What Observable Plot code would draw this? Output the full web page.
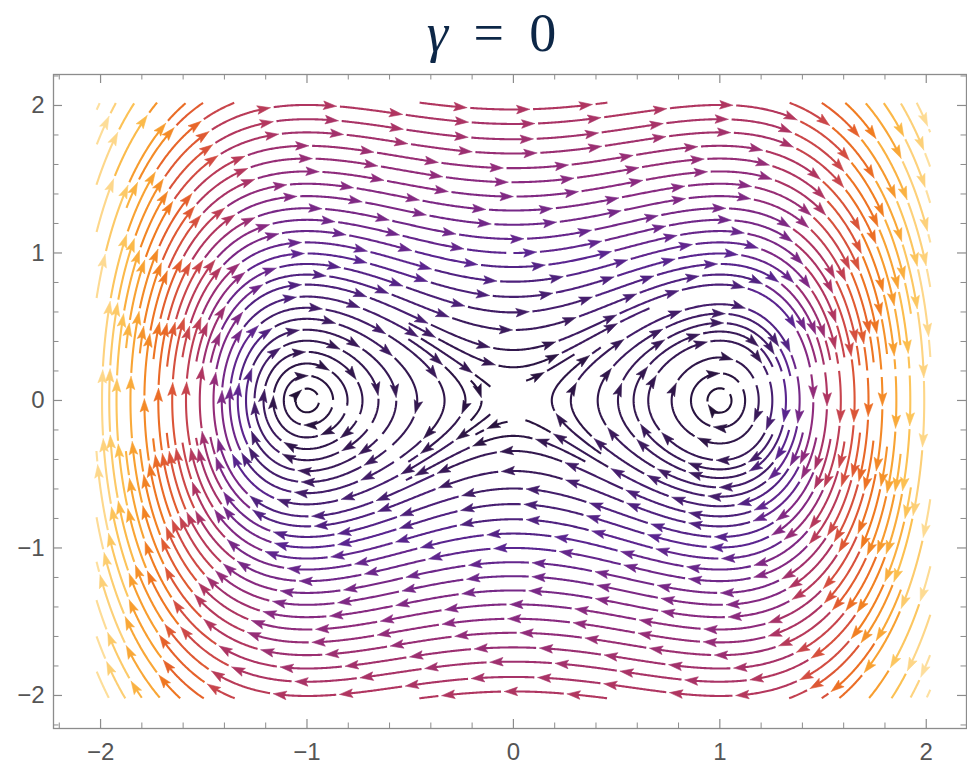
<!DOCTYPE html>
<html><head><meta charset="utf-8">
<script src="https://cdn.jsdelivr.net/npm/d3@7"></script>
<script src="https://cdn.jsdelivr.net/npm/@observablehq/plot@0.6"></script>
<style>
body{margin:0;background:#fff;}
#wrap{position:relative;width:967px;height:765px;}
#title{position:absolute;left:0;top:2px;width:967px;box-sizing:border-box;padding-left:16px;text-align:center;font-family:"Liberation Serif","DejaVu Serif",serif;font-size:54px;line-height:62px;color:#0d2747;word-spacing:12px;z-index:2;}
#chart{position:absolute;left:0;top:0;}
</style></head><body>
<div id="wrap"><div id="title"><i>γ</i> = 0</div><div id="chart"></div></div>
<script>
// ---- data ----
const gamma = 0;                       // damping of x'' = x - x^3 - gamma x'
const xTicks = [-2, -1, 0, 1, 2];
const yTicks = [-2, -1, 0, 1, 2];
const minorStep = 0.2;
const speedStops = [0, 0.5, 1, 1.5, 2, 2.6, 3.1, 3.6, 4.3, 5, 6.3];
const colorStops = ["#1e0f2e","#3a1a5a","#5a2590","#8a2a80","#b03560","#d04a45","#e5602c","#f07a20","#f8a030","#fcc050","#fde0a0"];

// ---- layout ----
const W = 967, H = 765, mL = 53, mR = 1, mT = 74, mB = 37;
const xDom = [-2.228, 2.195], yDom = [-2.224, 2.21];
const kx = (W - mL - mR) / (xDom[1] - xDom[0]);
const ky = (H - mT - mB) / (yDom[1] - yDom[0]);
const box = [-2.02, 2.02];

// ---- vector field & evenly spaced streamlines ----
function fieldAt(x, y) { return [y, x - x * x * x - gamma * y]; }
function speedAt(x, y) { const [u, v] = fieldAt(x, y); return Math.hypot(u, v); }
function dirAt(px, py) {
  const x = px / kx, y = py / ky;
  const [u, v] = fieldAt(x, y);
  const a = u * kx, b = v * ky, n = Math.hypot(a, b);
  return {dx: a / n, dy: b / n, s: Math.hypot(u, v)};
}
function tooSlow(px, py) {
  const x = px / kx, y = py / ky, s = speedAt(x, y);
  if (Math.abs(x) < 0.5) return s < 0.15;
  return s < 0.012;
}
const dsep = 14, dtest = 0.5 * dsep, h = 1.2;
const X0 = -2.1 * kx, Y0 = -2.1 * ky;
const cols = Math.ceil(4.2 * kx / dsep) + 1, rows = Math.ceil(4.2 * ky / dsep) + 1;
const grid = Array.from({length: cols * rows}, () => []);
function cellOf(px, py) { return [Math.floor((px - X0) / dsep), Math.floor((py - Y0) / dsep)]; }
function addPt(px, py, sid, idx) {
  const [i, j] = cellOf(px, py);
  if (i >= 0 && j >= 0 && i < cols && j < rows) grid[i + j * cols].push({px, py, sid, idx});
}
function near(px, py, d, sid, idx) {
  const [ci, cj] = cellOf(px, py), r = Math.ceil(d / dsep);
  for (let i = ci - r; i <= ci + r; i++) {
    if (i < 0 || i >= cols) continue;
    for (let j = cj - r; j <= cj + r; j++) {
      if (j < 0 || j >= rows) continue;
      const arr = grid[i + j * cols];
      for (let k = 0; k < arr.length; k++) {
        const q = arr[k];
        if (q.sid === sid && Math.abs(q.idx - idx) * h < 3 * dsep) continue;
        const dx = q.px - px, dy = q.py - py;
        if (dx * dx + dy * dy < d * d) return true;
      }
    }
  }
  return false;
}
function inBox(px, py) { const x = px / kx, y = py / ky; return x >= box[0] && x <= box[1] && y >= box[0] && y <= box[1]; }
function trace(px, py, sid, sign) {
  const out = []; let idx = 0;
  for (let step = 0; step < 8000; step++) {
    if (tooSlow(px, py)) break;
    const d1 = dirAt(px, py);
    const d2 = dirAt(px + sign * d1.dx * h / 2, py + sign * d1.dy * h / 2); if (!(d2.s > 0.005)) break;
    const nx = px + sign * d2.dx * h, ny = py + sign * d2.dy * h;
    if (!inBox(nx, ny)) break;
    idx += sign;
    if (near(nx, ny, dtest, sid, idx)) break;
    addPt(nx, ny, sid, idx); out.push([nx, ny]);
    px = nx; py = ny;
  }
  return out;
}
const streams = [];
function makeStream(px, py) {
  if (!inBox(px, py)) return null;
  if (near(px, py, dsep * 0.98, -1, 0)) return null;
  if (tooSlow(px, py)) return null;
  const sid = streams.length;
  addPt(px, py, sid, 0);
  const f = trace(px, py, sid, 1), b = trace(px, py, sid, -1);
  const s = {sid, pts: [...b.reverse(), [px, py], ...f]};
  streams.push(s); return s;
}
const queue = [];
function processQueue() {
  while (queue.length) {
    const s = queue.shift(), P = s.pts;
    for (let i = 0; i < P.length; i += 2) {
      const a = P[Math.max(0, i - 1)], b = P[Math.min(P.length - 1, i + 1)];
      let tx = b[0] - a[0], ty = b[1] - a[1]; const n = Math.hypot(tx, ty);
      if (n === 0) continue; tx /= n; ty /= n;
      for (const sg of [1, -1]) {
        const ns = makeStream(P[i][0] - sg * ty * dsep, P[i][1] + sg * tx * dsep);
        if (ns) queue.push(ns);
      }
    }
  }
}
const first = makeStream(0, 1.0 * ky);
if (first) queue.push(first);
processQueue();
for (let gx = box[0]; gx <= box[1]; gx += dsep / 2 / kx)
  for (let gy = box[0]; gy <= box[1]; gy += dsep / 2 / ky) {
    const ns = makeStream(gx * kx, gy * ky);
    if (ns) { queue.push(ns); processQueue(); }
  }

// ---- break streamlines into arrow pieces (arrow, then a small gap) ----
const pieceLen = 66, gap = 3.5, headLen = 13, headW = 4.3, notch = 10.5, lineBack = 8, minHeadStream = 30;
const lineRows = [], headRows = [];
let pid = 0;
for (const s of streams) {
  const P = s.pts; if (P.length < 3) continue;
  const cum = [0];
  for (let i = 1; i < P.length; i++) cum.push(cum[i - 1] + Math.hypot(P[i][0] - P[i - 1][0], P[i][1] - P[i - 1][1]));
  const L = cum[cum.length - 1]; if (L < 6) continue;
  const at = t => {
    let lo = 0, hi = cum.length - 1;
    while (hi - lo > 1) { const m = (lo + hi) >> 1; if (cum[m] <= t) lo = m; else hi = m; }
    const f = (cum[hi] - cum[lo]) > 0 ? (t - cum[lo]) / (cum[hi] - cum[lo]) : 0;
    return [P[lo][0] + f * (P[hi][0] - P[lo][0]), P[lo][1] + f * (P[hi][1] - P[lo][1])];
  };
  const n = Math.max(1, Math.round(L / pieceLen)), pl = L / n;
  const phase = 0.35 + 0.5 * ((s.sid * 0.6180339887) % 1);
  const tips = L >= minHeadStream ? d3.range(n).map(k => (k + phase) * pl) : [];
  const bounds = [0, ...tips, L];
  for (let k = 0; k < bounds.length - 1; k++) {
    const hasHead = k < tips.length;
    const s0 = bounds[k] + (k > 0 ? gap : 0), s1 = bounds[k + 1];
    if (s1 - s0 < 2) continue;
    const mid = at((s0 + s1) / 2), sp = speedAt(mid[0] / kx, mid[1] / ky);
    const lineEnd = hasHead ? s1 - lineBack : s1;
    if (lineEnd - s0 > 1) {
      const seg = [at(s0)];
      for (let i = 0; i < P.length; i++) if (cum[i] > s0 && cum[i] < lineEnd) seg.push(P[i]);
      seg.push(at(lineEnd));
      for (const p of seg) lineRows.push({x: p[0] / kx, y: p[1] / ky, id: pid, speed: sp});
    }
    if (hasHead && s1 > 6) {
      const tip = at(s1), back = at(Math.max(0, s1 - 5));
      let dx = tip[0] - back[0], dy = tip[1] - back[1]; const nn = Math.hypot(dx, dy) || 1;
      dx /= nn; dy /= nn; const qx = -dy, qy = dx;
      const poly = [
        tip,
        [tip[0] - headLen * dx + headW * qx, tip[1] - headLen * dy + headW * qy],
        [tip[0] - notch * dx, tip[1] - notch * dy],
        [tip[0] - headLen * dx - headW * qx, tip[1] - headLen * dy - headW * qy],
        tip
      ];
      for (const p of poly) headRows.push({x: p[0] / kx, y: p[1] / ky, id: pid, speed: sp});
    }
    pid++;
  }
}

// ---- ticks ----
const minor = d3.range(Math.round(xDom[0] / minorStep), Math.round(xDom[1] / minorStep) + 1)
  .map(i => +(i * minorStep).toFixed(2)).filter(v => Math.abs(v - Math.round(v)) > 1e-6 && v >= xDom[0] && v <= xDom[1]);
const minorY = d3.range(Math.round(yDom[0] / minorStep), Math.round(yDom[1] / minorStep) + 1)
  .map(i => +(i * minorStep).toFixed(2)).filter(v => Math.abs(v - Math.round(v)) > 1e-6 && v >= yDom[0] && v <= yDom[1]);
const majLen = 9, minLen = 5.5, tickColor = "#8c8c8c";
const fmt = d => d < 0 ? "\u2212" + (-d) : String(d);

const chart = Plot.plot({
  width: W, height: H,
  marginLeft: mL, marginRight: mR, marginTop: mT, marginBottom: mB,
  x: {domain: xDom, axis: null},
  y: {domain: yDom, axis: null},
  color: {type: "linear", domain: speedStops, range: colorStops, clamp: true},
  style: {fontFamily: "Liberation Sans, Arial, sans-serif", background: "white"},
  marks: [
    Plot.line(lineRows, {x: "x", y: "y", z: "id", stroke: "speed", strokeWidth: 2.1, strokeLinejoin: "round", strokeLinecap: "butt"}),
    Plot.line(headRows, {x: "x", y: "y", z: "id", fill: "speed", stroke: "speed", strokeWidth: 0.6, strokeLinejoin: "round"}),
    Plot.frame({stroke: tickColor, strokeWidth: 1.3}),
    Plot.ruleX(xTicks, {x: d => d, y1: yDom[0], y2: yDom[0] + majLen / ky, stroke: tickColor, strokeWidth: 1.2}),
    Plot.ruleX(minor, {x: d => d, y1: yDom[0], y2: yDom[0] + minLen / ky, stroke: tickColor, strokeWidth: 1}),
    Plot.ruleX(xTicks, {x: d => d, y1: yDom[1], y2: yDom[1] - majLen / ky, stroke: tickColor, strokeWidth: 1.2}),
    Plot.ruleX(minor, {x: d => d, y1: yDom[1], y2: yDom[1] - minLen / ky, stroke: tickColor, strokeWidth: 1}),
    Plot.ruleY(yTicks, {y: d => d, x1: xDom[0], x2: xDom[0] + majLen / kx, stroke: tickColor, strokeWidth: 1.2}),
    Plot.ruleY(minorY, {y: d => d, x1: xDom[0], x2: xDom[0] + minLen / kx, stroke: tickColor, strokeWidth: 1}),
    Plot.ruleY(yTicks, {y: d => d, x1: xDom[1], x2: xDom[1] - majLen / kx, stroke: tickColor, strokeWidth: 1.2}),
    Plot.ruleY(minorY, {y: d => d, x1: xDom[1], x2: xDom[1] - minLen / kx, stroke: tickColor, strokeWidth: 1}),
    Plot.text(xTicks, {x: d => d, y: yDom[0], dy: 24, text: fmt, fontSize: 24, fill: "#555"}),
    Plot.text(yTicks, {y: d => d, x: xDom[0], dx: -9, text: fmt, fontSize: 24, fill: "#555", textAnchor: "end"})
  ]
});
document.getElementById("chart").appendChild(chart);
</script>
</body></html>
